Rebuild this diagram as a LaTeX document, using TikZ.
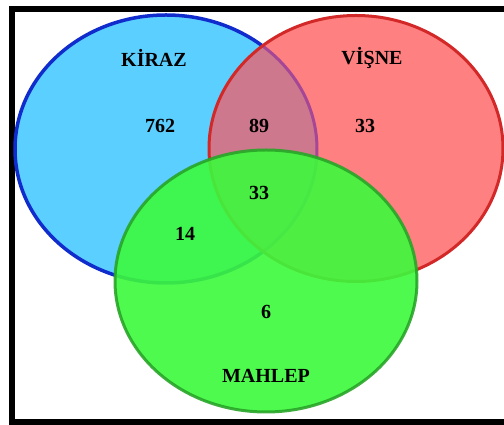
\documentclass[tikz,border=0pt]{standalone}
\usepackage{fontspec}
\setmainfont{Liberation Serif}
\usetikzlibrary{positioning}

\definecolor{kirazfill}{RGB}{91,207,255}
\definecolor{kirazline}{RGB}{16,44,205}
\definecolor{visnefill}{RGB}{255,128,128}
\definecolor{visneline}{RGB}{210,40,40}
\definecolor{kvfill}{RGB}{205,120,140}
\definecolor{kvline}{RGB}{165,70,150}
\definecolor{mahlepfill}{RGB}{60,250,60}
\definecolor{mahlepline}{RGB}{40,165,40}

\newcommand{\kirazset}{(166,276) ellipse [x radius=151, y radius=134]}
\newcommand{\visneset}{(356,276.5) ellipse [x radius=147, y radius=133]}
\newcommand{\mahlepset}{(266,144) ellipse [x radius=151, y radius=131]}

\begin{document}
\begin{tikzpicture}[x=1pt, y=1pt,
    lbl/.style={font=\fontsize{20}{22}\selectfont\bfseries, inner sep=0pt, anchor=base}
]
    \useasboundingbox (0,0) rectangle (504,425);

    % Frame
    \draw[line width=6pt] (12,3) rectangle (512,416);

    % Sets
    \draw[kirazline, fill=kirazfill, line width=3.5pt] \kirazset;
    \fill[visnefill] \visneset;
    \begin{scope}
        \clip \kirazset;
        \fill[kvfill] \visneset;
    \end{scope}
    \begin{scope}
        \clip \visneset;
        \draw[kvline, line width=3pt] \kirazset;
    \end{scope}
    \draw[visneline, line width=3pt] \visneset;
    \draw[mahlepline, fill=mahlepfill, line width=3pt, opacity=0.9] \mahlepset;

    % Set names
    \node[lbl] (kiraz) at (154,358) {KİRAZ};
    \node[lbl] (visne) at (372,360) {VİŞNE};
    \node[lbl] (mahlep) at (266,42) {MAHLEP};

    % Counts
    \node[lbl] (k) at (160,292) {762};
    \node[lbl] (kv) at (259,292) {89};
    \node[lbl] (v) at (365,292) {33};
    \node[lbl] (kvm) at (259,225) {33};
    \node[lbl] (km) at (185,184) {14};
    \node[lbl] (m) at (266,106) {6};
\end{tikzpicture}
\end{document}
